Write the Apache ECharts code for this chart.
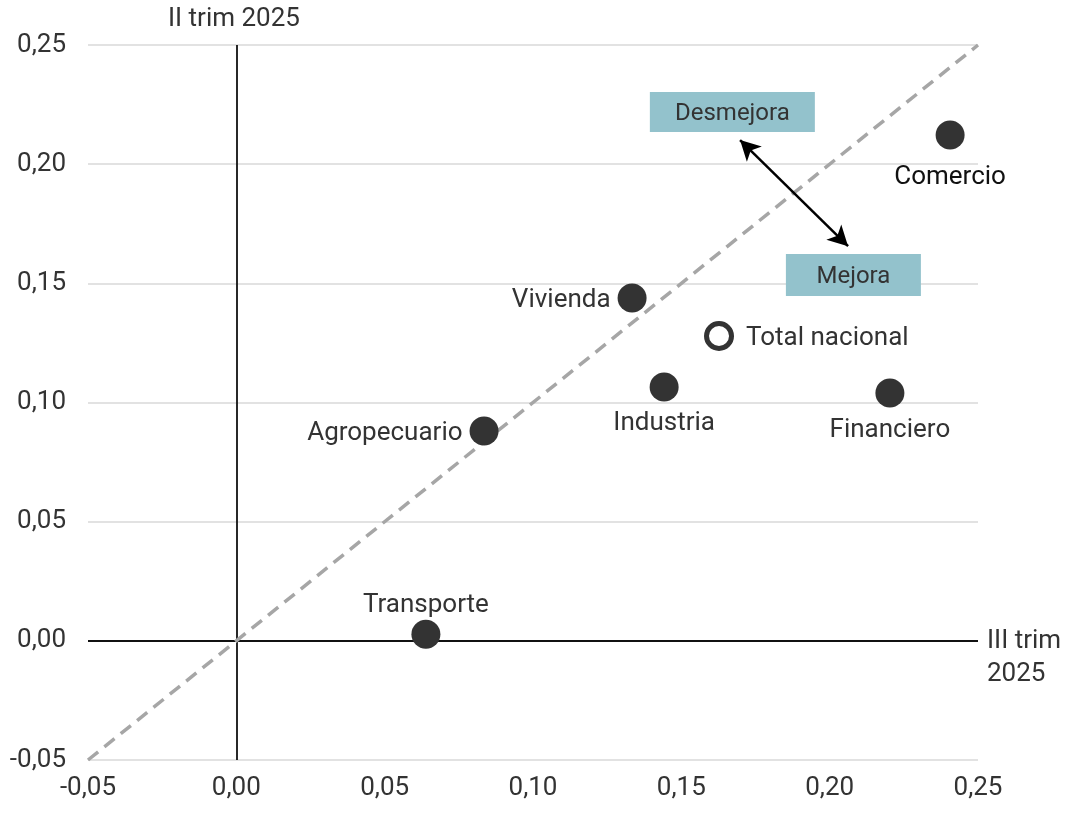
<!DOCTYPE html>
<html>
<head>
<meta charset="utf-8">
<script src="https://cdn.jsdelivr.net/npm/echarts@6/dist/echarts.min.js"></script>
<style>
  html, body { margin: 0; padding: 0; background: #fff; }
  #chart { width: 1070px; height: 813px; }
</style>
</head>
<body>
<div id="chart"></div>
<script>
// sector values: x = III trim 2025, y = II trim 2025
let sectors = ['Comercio', 'Vivienda', 'Industria', 'Financiero', 'Agropecuario', 'Transporte'];
let xValues = [0.2406, 0.1334, 0.1442, 0.2203, 0.0835, 0.0639];
let yValues = [0.2122, 0.1438, 0.1065, 0.1040, 0.0880, 0.0028];
let labelPos = ['bottom', 'left', 'bottom', 'bottom', 'left', 'top'];
let labelGap = [13, 7, 7, 8, 7, 3];
let totalPoint = [0.1627, 0.1279];
let axisTicks = [-0.05, 0.00, 0.05, 0.10, 0.15, 0.20, 0.25];

// annotation anchors in data units
let desmejoraAt = [0.1672, 0.2219];
let mejoraAt = [0.2080, 0.1535];
let arrowFrom = [0.1698, 0.2101];
let arrowTo = [0.2062, 0.1656];

let chart = echarts.init(document.getElementById('chart'));
let fmt = function (v) { return v.toFixed(2).replace('.', ','); };
let font = 'Roboto, sans-serif';

let pts = sectors.map(function (name, i) {
    return {
        name: name,
        value: [xValues[i], yValues[i]],
        label: {
            position: labelPos[i],
            distance: labelGap[i],
            offset: [0, 2],
            color: name === 'Comercio' ? '#111' : '#333'
        }
    };
});

let option = {
    animation: false,
    grid: { left: 88, right: 92, top: 45, bottom: 53 },
    xAxis: {
        type: 'value',
        min: axisTicks[0],
        max: axisTicks[axisTicks.length - 1],
        interval: 0.05,
        axisLine: { show: false },
        axisTick: { show: false },
        splitLine: { show: false },
        axisLabel: { formatter: fmt, fontSize: 26, color: '#333', fontFamily: font, margin: 15 }
    },
    yAxis: {
        type: 'value',
        min: axisTicks[0],
        max: axisTicks[axisTicks.length - 1],
        interval: 0.05,
        axisLine: { show: false },
        axisTick: { show: false },
        splitLine: { lineStyle: { color: '#d9d9d9', width: 1.5 } },
        axisLabel: { formatter: fmt, fontSize: 26, color: '#333', fontFamily: font, margin: 22 }
    },
    series: [
        {
            type: 'scatter',
            symbolSize: 29,
            itemStyle: { color: '#333', opacity: 1 },
            label: { show: true, formatter: '{b}', fontSize: 26, fontFamily: font },
            data: pts,
            z: 5,
            markLine: {
                silent: true,
                symbol: ['none', 'none'],
                label: { show: false },
                animation: false,
                data: [
                    { xAxis: 0, lineStyle: { color: '#111', type: 'solid', width: 1.8 } },
                    { yAxis: 0, lineStyle: { color: '#111', type: 'solid', width: 1.8 } },
                    [
                        { coord: [axisTicks[0], axisTicks[0]], lineStyle: { color: '#a6a6a6', type: [13, 8], width: 3.5 } },
                        { coord: [axisTicks[6], axisTicks[6]] }
                    ]
                ]
            }
        },
        {
            type: 'scatter',
            symbolSize: 25,
            itemStyle: { color: '#fff', borderColor: '#333', borderWidth: 5, opacity: 1 },
            label: { show: true, formatter: '{b}', position: 'right', distance: 12, offset: [0, 2], fontSize: 26, color: '#333', fontFamily: font },
            data: [{ name: 'Total nacional', value: totalPoint }],
            z: 6
        },
        {
            type: 'scatter',
            symbol: 'rect',
            silent: true,
            itemStyle: { color: '#93c2cc', opacity: 1 },
            label: { show: true, position: 'inside', formatter: '{b}', offset: [0, 2], fontSize: 24, color: '#333', fontFamily: font },
            data: [
                { name: 'Desmejora', value: desmejoraAt, symbolSize: [165, 40] },
                { name: 'Mejora', value: mejoraAt, symbolSize: [135, 42] }
            ],
            z: 4,
            markLine: {
                silent: true,
                symbol: ['arrow', 'arrow'],
                symbolSize: [16, 20],
                label: { show: false },
                lineStyle: { color: '#000', type: 'solid', width: 2.5 },
                data: [[{ coord: arrowFrom }, { coord: arrowTo }]]
            }
        }
    ],
    graphic: [
        {
            type: 'text', left: 168, top: 6,
            style: { text: 'II trim 2025', fontSize: 26, fill: '#333', fontFamily: font }
        },
        {
            type: 'text', left: 987, top: 625,
            style: { text: 'III trim\n2025', fontSize: 26, lineHeight: 33, fill: '#333', fontFamily: font }
        }
    ]
};

chart.setOption(option);
</script>
</body>
</html>
